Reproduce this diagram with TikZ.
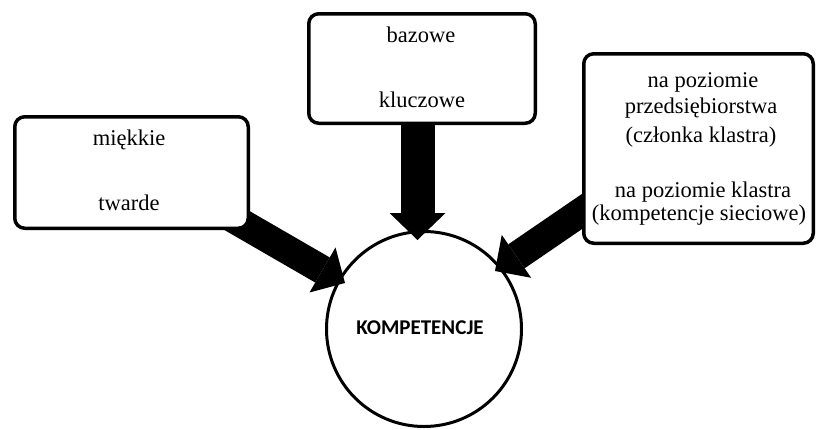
\documentclass[tikz,border=0pt]{standalone}
\usepackage{fontspec}
\setmainfont{Liberation Serif}
\newfontfamily\srf{Liberation Serif}
\newfontfamily\kompsans{Carlito}
\usetikzlibrary{arrows.meta,calc}
\begin{document}
\begin{tikzpicture}[x=1pt,y=-1pt,
  box/.style={draw=black,line width=3.5pt,rounded corners=10pt,fill=white,rectangle,inner sep=0pt},
  txt/.style={anchor=base,inner sep=0pt,font=\srf\fontsize{22.5}{26}\selectfont},
  fat/.style={line width=29pt,-{Triangle[length=26pt,width=52pt,line width=0pt]}},
  fattop/.style={line width=34pt,-{Triangle[length=27pt,width=56pt,line width=0pt]}}]
\useasboundingbox (0,0) rectangle (816,429);
% circle
\node[draw=black,line width=3pt,circle,minimum size=195pt,inner sep=0pt] (circ) at (424,329) {};
\node[inner sep=0pt,anchor=base,font=\kompsans\bfseries\fontsize{21}{24}\selectfont] (komp) at (420,334) {KOMPETENCJE};
% boxes (positions)
\coordinate (lbc) at (131.5,172.5);
\coordinate (tbc) at (422,68.5);
\coordinate (rbc) at (698.5,148.5);
% arrow end points
\coordinate (lstart) at (225,213.6);
\coordinate (ltip) at (345,283);
\coordinate (tstart) at (417.5,110);
\coordinate (ttip) at (417.5,240);
\coordinate (rstart) at (590,206);
\coordinate (rtip) at (495,271);
\draw[fat] (lstart) -- (ltip);
\draw[fattop] (tstart) -- (ttip);
\draw[fat] (rstart) -- (rtip);
% boxes on top
\node[box,minimum width=233.5pt,minimum height=111.5pt] (lbox) at (lbc) {};
\node[box,minimum width=226.5pt,minimum height=109.5pt] (tbox) at (tbc) {};
\node[box,minimum width=229.5pt,minimum height=189.5pt] (rbox) at (rbc) {};
% texts
\node[txt] (l1) at (129,145) {miękkie};
\node[txt] (l2) at (129,210) {twarde};
\node[txt] (t1) at (421,42) {bazowe};
\node[txt] (t2) at (422,107) {kluczowe};
\node[txt] (r1) at (703,87) {na poziomie};
\node[txt] (r2) at (701,113) {przedsiębiorstwa};
\node[txt] (r3) at (701,142) {(członka klastra)};
\node[txt] (r4) at (703,197) {na poziomie klastra};
\node[txt] (r5) at (699,220) {(kompetencje sieciowe)};
\end{tikzpicture}
\end{document}
